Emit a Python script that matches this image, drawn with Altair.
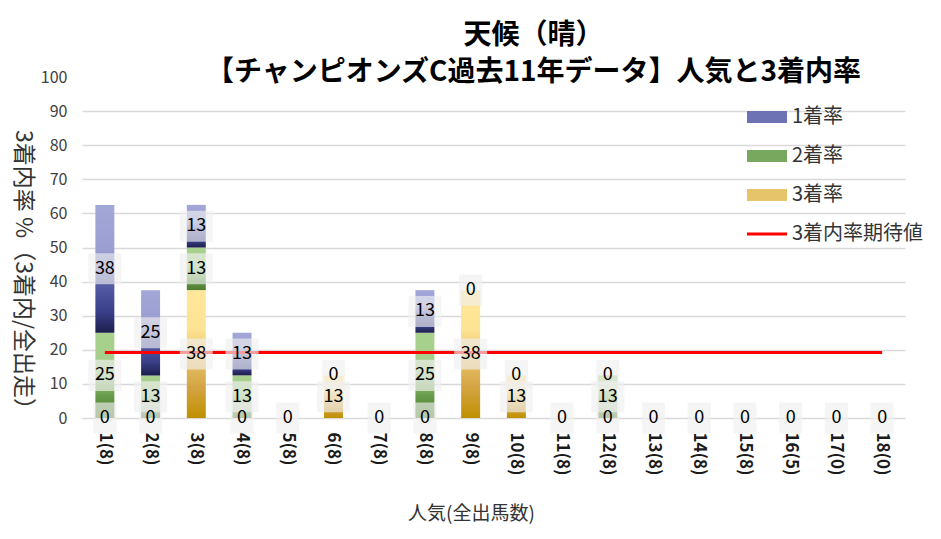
import altair as alt
import pandas as pd

FONT = "Noto Sans CJK JP"

categories = ["1(8)", "2(8)", "3(8)", "4(8)", "5(8)", "6(8)", "7(8)", "8(8)", "9(8)",
              "10(8)", "11(8)", "12(8)", "13(8)", "14(8)", "15(8)", "16(5)", "17(0)", "18(0)"]
win_rate = [37.5, 25.0, 12.5, 12.5, 0, 0, 0, 12.5, 0, 0, 0, 0, 0, 0, 0, 0, 0, 0]
second_rate = [25.0, 12.5, 12.5, 12.5, 0, 0, 0, 25.0, 0, 0, 0, 12.5, 0, 0, 0, 0, 0, 0]
third_rate = [0, 0, 37.5, 0, 0, 12.5, 0, 0, 37.5, 12.5, 0, 0, 0, 0, 0, 0, 0, 0]
expected = [19.2, 19.2, 19.2, 19.2, 19.2, 19.2, 19.2, 19.2, 19.2,
            19.2, 19.2, 19.2, 19.2, 19.2, 19.2, 19.2, 19.2, 19.2]
series_names = ["1着率", "2着率", "3着率", "3着内率期待値"]

rows = []
for i, c in enumerate(categories):
    for name, vals, order in [("3着率", third_rate, 0), ("2着率", second_rate, 1), ("1着率", win_rate, 2)]:
        rows.append({"cat": c, "series": name, "value": vals[i], "order": order})
df = pd.DataFrame(rows)
line_df = pd.DataFrame({"cat": categories, "value": expected})
leg_df = pd.DataFrame({"series": series_names})

def grad(stops):
    return alt.Gradient(gradient="linear", x1=0, x2=0, y1=0, y2=1,
                        stops=[alt.GradientStop(offset=o, color=c) for o, c in stops])

gradients = {
    "1着率": grad([(0, "#a3a7d8"), (0.35, "#9a9ed1"), (0.6, "#5a60aa"), (0.85, "#383d86"), (1, "#1c1e4a")]),
    "2着率": grad([(0, "#a9d18e"), (0.4, "#a5ce8a"), (0.6, "#8bb86f"), (0.75, "#679a4a"), (1, "#4f7d31")]),
    "3着率": grad([(0, "#ffe699"), (0.3, "#fde394"), (0.5, "#ecc870"), (0.75, "#d4a545"), (1, "#bf8f00")]),
}

x_axis = alt.Axis(labelAngle=90, labelFontSize=17, labelFontWeight="bold", labelFont=FONT,
                  labelColor="#1a1a1a", labelPadding=14, ticks=False, domain=False,
                  labelAlign="left", labelBaseline="middle",
                  titleFont=FONT, titleFontSize=19, titleFontWeight="normal", titleColor="#333333",
                  titleX=389, titleY=95, titleAlign="center", titleBaseline="middle")
y_axis = alt.Axis(values=list(range(0, 101, 10)), labelFontSize=16, labelFont=FONT,
                  labelColor="#404040", labelPadding=15, ticks=False, domain=False,
                  grid=True, gridColor="#d9d9d9", gridWidth=1.5,
                  gridOpacity={"condition": {"test": "datum.value === 100", "value": 0}, "value": 1},
                  titleFont=FONT, titleFontSize=23, titleFontWeight="normal", titleColor="#333333",
                  titleAngle=90, titleX=-60, titleY=198, titleAlign="center", titleBaseline="middle")

X = alt.X("cat:N", sort=categories, title="人気(全出馬数)",
          scale=alt.Scale(paddingInner=0.585, paddingOuter=0.2925), axis=x_axis)
Y_TITLE = "3着内率 %（3着内/全出走）"
YSCALE = alt.Scale(domain=[0, 100])

base = alt.Chart(df).transform_stack(
    stack="value", groupby=["cat"], as_=["y0", "y1"],
    sort=[alt.SortField("order", order="ascending")])

layers = []
for name in ["3着率", "2着率", "1着率"]:
    layers.append(
        base.transform_filter(alt.datum.series == name)
        .mark_bar(color=gradients[name])
        .encode(x=X, y=alt.Y("y0:Q", scale=YSCALE, title=Y_TITLE, axis=y_axis), y2="y1:Q")
    )

line = alt.Chart(line_df).mark_line(color="#ff0000", strokeWidth=3).encode(
    x=X, y=alt.Y("value:Q", scale=YSCALE, title=Y_TITLE, axis=y_axis))

lab = (base.transform_calculate(mid="(datum.y0 + datum.y1) / 2",
                                label="format(datum.value, '.0f')")
       .transform_window(rank="row_number()", groupby=["cat", "mid"])
       .transform_filter(alt.datum.rank == 1))
path_one = "M-0.7,-0.94H0.7V0.94H-0.7Z"
path_two = "M-1,-0.94H1V0.94H-1Z"
boxes = lab.mark_point(filled=True, size=1089, color="#efefef", opacity=0.65, strokeWidth=0).encode(
    x=X, y=alt.Y("mid:Q", scale=YSCALE, title=Y_TITLE, axis=y_axis),
    shape=alt.condition("length(datum.label) > 1", alt.value(path_two), alt.value(path_one)))
texts = lab.mark_text(fontSize=18, font=FONT, color="#000000", baseline="middle").encode(
    x=X, y=alt.Y("mid:Q", scale=YSCALE, title=Y_TITLE, axis=y_axis), text="label:N")

legend_colors = ["#6d72b4", "#78a85e", "#e6c46a", "#ff0000"]
legend_paths = ["M-1,-0.3H1V0.3H-1Z", "M-1,-0.3H1V0.3H-1Z", "M-1,-0.3H1V0.3H-1Z", "M-1,-0.075H1V0.075H-1Z"]
leg = alt.Legend(title=None, orient="none", legendX=665, legendY=20, symbolSize=1600,
                 symbolOpacity=1, symbolStrokeWidth=0, labelFontSize=20, labelFont=FONT,
                 labelColor="#333333", labelOffset=5, rowPadding=9, padding=0, labelLimit=300)
legend_layer = alt.Chart(leg_df).mark_point(filled=True, opacity=0).encode(
    color=alt.Color("series:N", scale=alt.Scale(domain=series_names, range=legend_colors), legend=leg),
    shape=alt.Shape("series:N", scale=alt.Scale(domain=series_names, range=legend_paths), legend=leg))

chart = alt.layer(*layers, line, boxes, texts, legend_layer).properties(
    width=823, height=341,
    autosize=alt.AutoSizeParams(type="none"),
    padding={"left": 74, "top": 69, "right": 27, "bottom": 107},
    background="white",
    title=alt.TitleParams(text="天候（晴）", subtitle="【チャンピオンズC過去11年データ】人気と3着内率",
                          font=FONT, subtitleFont=FONT, fontSize=28, subtitleFontSize=28,
                          fontWeight="bold", subtitleFontWeight="bold", color="#000000",
                          subtitleColor="#000000", anchor="middle", dx=40, dy=18, offset=0,
                          subtitlePadding=9),
).configure_view(stroke=None)

chart.save("out.html", embed_options={"renderer": "svg", "actions": False})
